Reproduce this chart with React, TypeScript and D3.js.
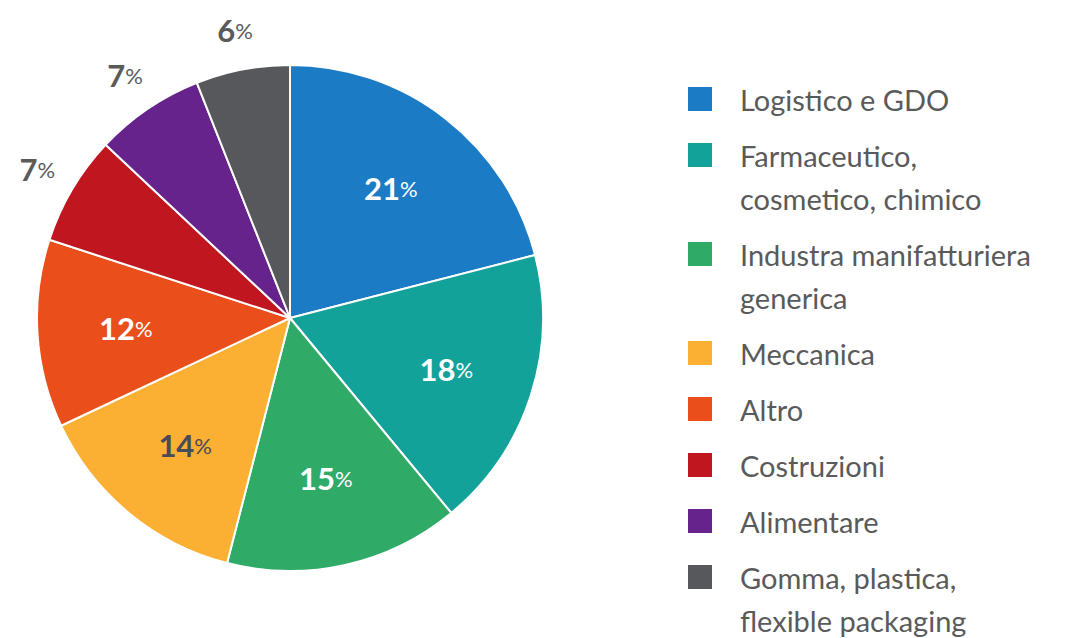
import React from 'react';
import * as d3 from 'd3';

const categories = [
  'Logistico e GDO',
  'Farmaceutico, cosmetico, chimico',
  'Industra manifatturiera generica',
  'Meccanica',
  'Altro',
  'Costruzioni',
  'Alimentare',
  'Gomma, plastica, flexible packaging',
];
const legendLines = [
  ['Logistico e GDO'],
  ['Farmaceutico,', 'cosmetico, chimico'],
  ['Industra manifatturiera', 'generica'],
  ['Meccanica'],
  ['Altro'],
  ['Costruzioni'],
  ['Alimentare'],
  ['Gomma, plastica,', 'flexible packaging'],
];
const values = [21, 18, 15, 14, 12, 7, 7, 6];
const colors = ['#1b7bc4', '#13a29a', '#30ab67', '#fbb034', '#e94e1b', '#c0161f', '#67238c', '#57585b'];
// labels outside the pie for the small slices
const outside = [false, false, false, false, false, true, true, true];
const labelFill = ['#fff', '#fff', '#fff', '#4a4a58', '#fff', '#5a5a5a', '#5a5a5a', '#5a5a5a'];

const FONT = 'Lato, "Noto Sans", sans-serif';

export default function App() {
  const width = 1082;
  const height = 638;
  const cx = 290;
  const cy = 318;
  const r = 253;

  const data = categories.map((c, i) => ({ name: c, value: values[i], i }));
  const pie = d3.pie<typeof data[0]>().value(d => d.value).sort(null);
  const arcs = pie(data);
  const arc = d3.arc<d3.PieArcDatum<typeof data[0]>>().innerRadius(0).outerRadius(r);
  const inner = d3.arc<d3.PieArcDatum<typeof data[0]>>().innerRadius(r * 0.65).outerRadius(r * 0.65);
  const outer = d3.arc<d3.PieArcDatum<typeof data[0]>>().innerRadius(r * 1.16).outerRadius(r * 1.16);

  // legend layout
  const lx = 688;
  const rowGap = 56;
  const lineGap = 43;
  let y = 99;
  const rows = legendLines.map((lines, i) => {
    const row = { y, lines, i };
    y += rowGap + (lines.length - 1) * lineGap;
    return row;
  });

  return (
    <svg width={width} height={height} style={{ position: 'absolute', left: 0, top: 0, background: '#fff' }}>
      <g transform={`translate(${cx},${cy})`}>
        {arcs.map(a => (
          <path key={a.data.name} d={arc(a) || ''} fill={colors[a.data.i]} stroke="#fff" strokeWidth={2} strokeLinejoin="round" />
        ))}
        {arcs.map(a => {
          const [x, yy] = outside[a.data.i] ? outer.centroid(a) : inner.centroid(a);
          return (
            <text key={'l' + a.data.name} x={x} y={yy} textAnchor="middle" dominantBaseline="central"
              fontFamily={FONT} fill={labelFill[a.data.i]}>
              <tspan fontSize={31} fontWeight={700}>{a.data.value}</tspan>
              <tspan fontSize={22} fontWeight={400}>%</tspan>
            </text>
          );
        })}
      </g>
      <g fontFamily={FONT}>
        {rows.map(row => (
          <g key={row.i}>
            <rect x={lx} y={row.y - 12} width={24} height={24} fill={colors[row.i]} />
            {row.lines.map((ln, j) => (
              <text key={j} x={740} y={row.y + j * lineGap} dominantBaseline="central" fontSize={29} fill="#5a5a5a">{ln}</text>
            ))}
          </g>
        ))}
      </g>
    </svg>
  );
}
